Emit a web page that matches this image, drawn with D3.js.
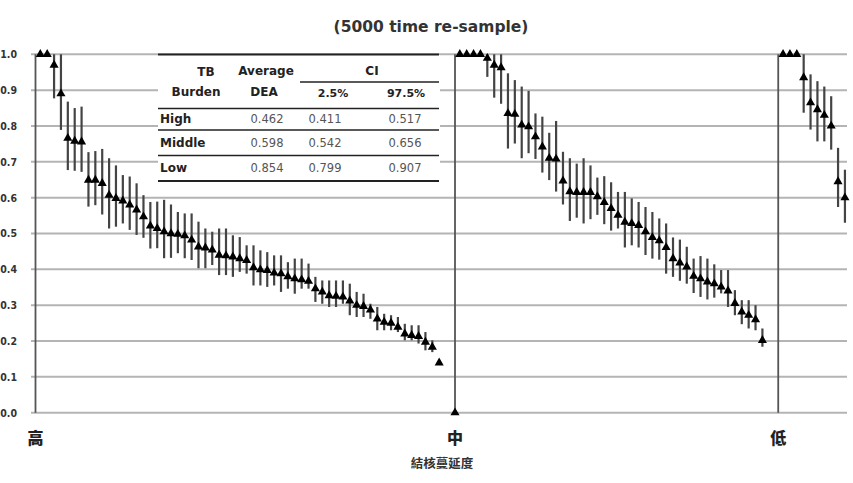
<!DOCTYPE html>
<html>
<head>
<meta charset="utf-8">
<script src="https://cdn.jsdelivr.net/npm/d3@7/dist/d3.min.js"></script>
<style>
    body { margin: 0; background: #fff; }
    svg { display: block; font-family: "DejaVu Sans", sans-serif; }
</style>
</head>
<body>
<svg id="mainSvg" width="853" height="483"></svg>
<script>
// Chart data
let groupLabels = ["高", "中", "低"];

let highDea = [1.0, 1.0, 0.97, 0.89, 0.766, 0.758, 0.756, 0.649, 0.649, 0.640, 0.607, 0.598, 0.591, 0.580, 0.566, 0.547, 0.521, 0.514, 0.505, 0.500, 0.498, 0.494, 0.482, 0.463, 0.460, 0.454, 0.440, 0.438, 0.435, 0.430, 0.425, 0.405, 0.399, 0.397, 0.390, 0.388, 0.380, 0.374, 0.371, 0.367, 0.346, 0.337, 0.327, 0.325, 0.323, 0.312, 0.300, 0.297, 0.287, 0.262, 0.253, 0.250, 0.239, 0.220, 0.216, 0.213, 0.197, 0.183, 0.139];
let highLo = [1.0, 1.0, 0.877, 0.789, 0.677, 0.675, 0.672, 0.575, 0.579, 0.553, 0.514, 0.519, 0.528, 0.510, 0.496, 0.488, 0.458, 0.459, 0.431, 0.432, 0.445, 0.431, 0.426, 0.403, 0.403, 0.412, 0.384, 0.384, 0.379, 0.393, 0.388, 0.355, 0.355, 0.351, 0.355, 0.337, 0.346, 0.332, 0.346, 0.346, 0.309, 0.304, 0.295, 0.295, 0.304, 0.272, 0.267, 0.267, 0.262, 0.230, 0.230, 0.230, 0.225, 0.202, 0.202, 0.193, 0.174, 0.169, 0.139];
let highHi = [1.0, 1.0, 1.0, 1.0, 0.868, 0.850, 0.854, 0.727, 0.730, 0.736, 0.710, 0.690, 0.663, 0.659, 0.640, 0.607, 0.588, 0.589, 0.594, 0.581, 0.560, 0.556, 0.556, 0.533, 0.514, 0.505, 0.514, 0.514, 0.495, 0.490, 0.467, 0.467, 0.453, 0.448, 0.439, 0.439, 0.420, 0.430, 0.430, 0.416, 0.379, 0.369, 0.369, 0.369, 0.369, 0.360, 0.337, 0.332, 0.304, 0.295, 0.276, 0.272, 0.267, 0.248, 0.244, 0.244, 0.225, 0.202, 0.139];

let midDea = [1, 1, 1, 1, 0.989, 0.970, 0.963, 0.835, 0.833, 0.803, 0.798, 0.770, 0.742, 0.710, 0.708, 0.647, 0.617, 0.615, 0.615, 0.615, 0.603, 0.587, 0.570, 0.551, 0.532, 0.528, 0.523, 0.505, 0.489, 0.480, 0.461, 0.430, 0.418, 0.407, 0.381, 0.374, 0.365, 0.360, 0.351, 0.340, 0.305, 0.281, 0.272, 0.260, 0.202];
let midLo = [1, 1, 1, 1, 0.937, 0.879, 0.862, 0.737, 0.751, 0.710, 0.724, 0.708, 0.670, 0.649, 0.617, 0.581, 0.535, 0.544, 0.528, 0.540, 0.552, 0.526, 0.508, 0.514, 0.461, 0.467, 0.461, 0.440, 0.430, 0.427, 0.388, 0.379, 0.368, 0.360, 0.334, 0.323, 0.316, 0.321, 0.333, 0.295, 0.272, 0.247, 0.235, 0.230, 0.184];
let midHi = [1, 1, 1, 1, 1, 1, 1, 0.947, 0.928, 0.910, 0.898, 0.835, 0.826, 0.781, 0.814, 0.728, 0.710, 0.695, 0.710, 0.690, 0.656, 0.660, 0.643, 0.616, 0.616, 0.598, 0.588, 0.574, 0.560, 0.542, 0.528, 0.489, 0.483, 0.463, 0.430, 0.437, 0.430, 0.414, 0.398, 0.398, 0.342, 0.314, 0.314, 0.300, 0.235];

let lowDea = [1, 1, 1, 0.935, 0.865, 0.846, 0.830, 0.800, 0.645, 0.600];
let lowLo = [1, 1, 1, 0.837, 0.790, 0.757, 0.757, 0.734, 0.574, 0.530];
let lowHi = [1, 1, 1, 1.0, 0.944, 0.925, 0.910, 0.883, 0.739, 0.678];

// a lone zero point sits on the 中 divider
let dividerPoints = [{ group: "中", value: 0 }];

let yTicks = [0, 0.1, 0.2, 0.3, 0.4, 0.5, 0.6, 0.7, 0.8, 0.9, 1.0];

let tableHead = ["TB", "Burden", "Average", "DEA", "CI", "2.5%", "97.5%"];
let tableRows = ["High", "Middle", "Low"];
let tableAvg = ["0.462", "0.598", "0.854"];
let tableLow = ["0.411", "0.542", "0.799"];
let tableHigh = ["0.517", "0.656", "0.907"];

let titleText = "(5000 time re-sample)";
let xTitle = "結核蔓延度";

// Build the groups, each one starting after a gap of two empty slots
let seriesList = [
    { dea: highDea, lo: highLo, hi: highHi },
    { dea: midDea, lo: midLo, hi: midHi },
    { dea: lowDea, lo: lowLo, hi: lowHi },
];
let points = [];
let groupStart = [];
let slot = 0;
seriesList.forEach(function (s, g) {
    groupStart.push(slot);
    s.dea.forEach(function (v, i) {
        points.push({ k: slot + i, v: v, lo: s.lo[i], hi: s.hi[i] });
    });
    slot += s.dea.length + 2;
});
let lastSlot = slot - 3;

let svg = d3.select("#mainSvg");

let x = d3.scaleLinear().domain([-0.7, lastSlot + 0.3]).range([35.5, 847]);
let y = d3.scaleLinear().domain([0, 1]).range([412.7, 54.3]);
let dividerX = function (g) {
    return x(groupStart[g] - 0.7);
};

// Gridlines
svg.append("g")
    .selectAll("line")
    .data(yTicks)
    .join("line")
    .attr("x1", 31)
    .attr("x2", 847)
    .attr("y1", (d) => y(d))
    .attr("y2", (d) => y(d))
    .attr("stroke", "#b4b4b4")
    .attr("stroke-width", 2);

// Y labels
let yAxis = svg.append("g")
    .attr("transform", "translate(36,0)")
    .call(d3.axisLeft(y).tickValues(yTicks).tickFormat(d3.format(".1f")).tickSize(0).tickPadding(19));
yAxis.select(".domain").remove();
yAxis.selectAll("text")
    .attr("font-size", 10.5)
    .attr("font-weight", "bold")
    .attr("fill", "#333")
    .attr("font-family", "DejaVu Sans Condensed, DejaVu Sans, sans-serif");

// Table in the upper area
let tb = svg.append("g").attr("font-family", "DejaVu Sans, sans-serif");
tb.append("rect")
    .attr("x", 158).attr("y", 55)
    .attr("width", 282).attr("height", 126)
    .attr("fill", "#fff");

let rule = function (x1, x2, yy, w) {
    tb.append("line")
        .attr("x1", x1).attr("x2", x2)
        .attr("y1", yy).attr("y2", yy)
        .attr("stroke", "#222")
        .attr("stroke-width", w);
};
rule(158, 439, 54.5, 2);
rule(300, 439, 82, 1.3);
rule(158, 439, 108.5, 1.3);
rule(158, 439, 130, 1.3);
rule(158, 439, 155.5, 1.3);
rule(158, 439, 181, 2);

let headPos = [[206, 72], [196, 92], [266, 71], [264, 92], [372, 71], [333, 94], [406, 94]];
tb.selectAll("text.head")
    .data(tableHead)
    .join("text")
    .attr("class", "head")
    .attr("x", (d, i) => headPos[i][0])
    .attr("y", (d, i) => headPos[i][1])
    .attr("text-anchor", "middle")
    .attr("dominant-baseline", "middle")
    .attr("font-size", (d, i) => (i >= 5 ? 11 : 12))
    .attr("font-weight", "bold")
    .attr("fill", "#222")
    .text((d) => d);

let rowY = [119.5, 143, 168];
tb.selectAll("text.row")
    .data(tableRows)
    .join("text")
    .attr("class", "row")
    .attr("x", 160)
    .attr("y", (d, i) => rowY[i])
    .attr("dominant-baseline", "middle")
    .attr("font-size", 12)
    .attr("font-weight", "bold")
    .attr("fill", "#222")
    .text((d) => d);

let numCols = [[tableAvg, 267], [tableLow, 325], [tableHigh, 405]];
numCols.forEach(function (c) {
    tb.append("g")
        .selectAll("text")
        .data(c[0])
        .join("text")
        .attr("x", c[1])
        .attr("y", (d, i) => rowY[i])
        .attr("text-anchor", "middle")
        .attr("dominant-baseline", "middle")
        .attr("font-size", 11.5)
        .attr("fill", "#555")
        .text((d) => d);
});

// Left axis line and group dividers
svg.append("g")
    .selectAll("line")
    .data(groupLabels)
    .join("line")
    .attr("x1", (d, i) => dividerX(i))
    .attr("x2", (d, i) => dividerX(i))
    .attr("y1", y(0))
    .attr("y2", y(1))
    .attr("stroke", "#555")
    .attr("stroke-width", 1.8);

// Error bars
svg.append("g")
    .selectAll("line")
    .data(points.filter((d) => d.hi > d.lo))
    .join("line")
    .attr("x1", (d) => x(d.k))
    .attr("x2", (d) => x(d.k))
    .attr("y1", (d) => y(d.lo))
    .attr("y2", (d) => y(d.hi))
    .attr("stroke", "#444")
    .attr("stroke-width", 2.2);

// Triangle markers
let tri = d3.symbol().type(d3.symbolTriangle).size(36);
svg.append("g")
    .selectAll("path")
    .data(points)
    .join("path")
    .attr("d", tri)
    .attr("transform", (d) => "translate(" + x(d.k) + "," + y(d.v) + ")")
    .attr("fill", "#000");

svg.append("g")
    .selectAll("path")
    .data(dividerPoints)
    .join("path")
    .attr("d", tri)
    .attr("transform", (d) => "translate(" + dividerX(groupLabels.indexOf(d.group)) + "," + y(d.value) + ")")
    .attr("fill", "#000");

// Group labels under the axis
svg.append("g")
    .selectAll("text")
    .data(groupLabels)
    .join("text")
    .attr("x", (d, i) => dividerX(i))
    .attr("y", 440)
    .attr("text-anchor", "middle")
    .attr("dominant-baseline", "middle")
    .attr("font-family", "Noto Sans CJK TC, sans-serif")
    .attr("font-size", 16)
    .attr("font-weight", "900")
    .attr("fill", "#222")
    .text((d) => d);

// Axis title and chart title
svg.append("text")
    .attr("x", 442)
    .attr("y", 465)
    .attr("text-anchor", "middle")
    .attr("dominant-baseline", "middle")
    .attr("font-family", "Noto Sans CJK TC, sans-serif")
    .attr("font-size", 12.5)
    .attr("font-weight", "bold")
    .attr("fill", "#333")
    .text(xTitle);

svg.append("text")
    .attr("x", 431)
    .attr("y", 27)
    .attr("text-anchor", "middle")
    .attr("dominant-baseline", "middle")
    .attr("font-size", 15.5)
    .attr("font-weight", "bold")
    .attr("fill", "#333")
    .text(titleText);
</script>
</body>
</html>
